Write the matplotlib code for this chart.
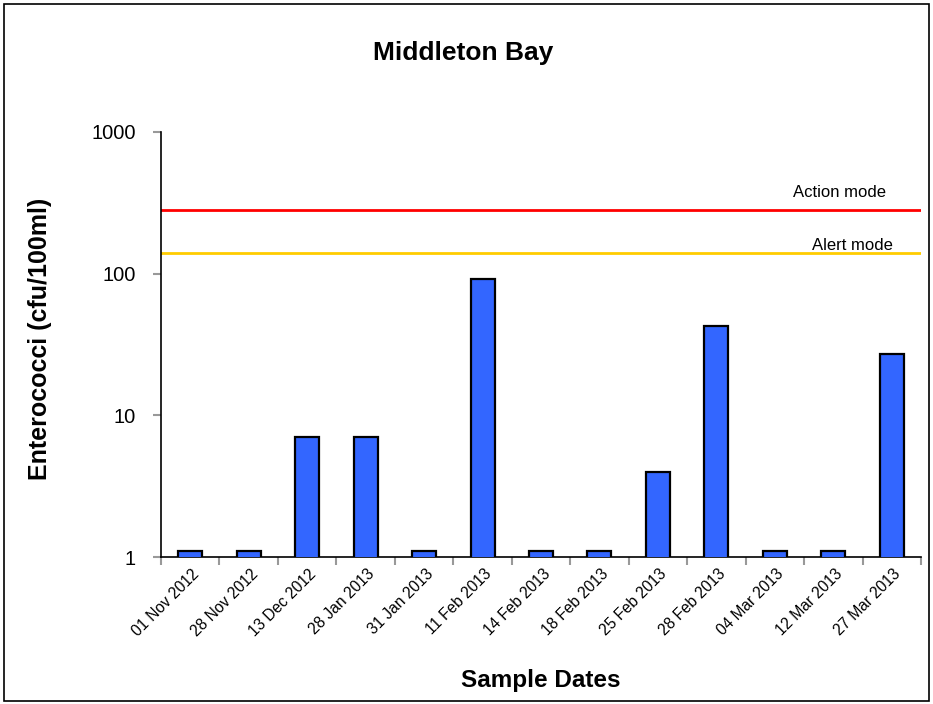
import numpy as np
import matplotlib
matplotlib.use("Agg")
import matplotlib.pyplot as plt
from matplotlib.patches import Rectangle

# Veriler
dates = ["01 Nov 2012", "28 Nov 2012", "13 Dec 2012", "28 Jan 2013", "31 Jan 2013",
         "11 Feb 2013", "14 Feb 2013", "18 Feb 2013", "25 Feb 2013", "28 Feb 2013",
         "04 Mar 2013", "12 Mar 2013", "27 Mar 2013"]
enterococci = [1.1, 1.1, 7, 7, 1.1, 91, 1.1, 1.1, 4, 43, 1.1, 1.1, 27]
action_level = 280
alert_level = 140
y_ticks = [1, 10, 100, 1000]

plt.rcParams['font.family'] = ['Liberation Sans', 'DejaVu Sans']

fig = plt.figure(figsize=(9.33, 7.04), dpi=100)
ax = fig.add_axes([161/933, 1-557.3/704, (921-161)/933, (557.3-131.7)/704])

x = np.arange(len(dates))
ax.bar(x, enterococci, width=0.41, color='#3366FF', edgecolor='black', linewidth=1.6, zorder=3)

ax.set_yscale('log')
ax.set_ylim(1, 1000)
ax.set_xlim(-0.5, len(dates) - 0.5)

# Eşik çizgileri
ax.axhline(action_level, color='#FF0000', linewidth=2, zorder=2)
ax.axhline(alert_level, color='#FFCC00', linewidth=2, zorder=2)
ax.text(11.1, action_level * 1.24, "Action mode", ha='center', va='baseline', fontsize=12)
ax.text(11.33, alert_level * 1.05, "Alert mode", ha='center', va='baseline', fontsize=12)

# Eksenler
ax.set_yticks(y_ticks)
ax.set_yticklabels([str(v) for v in y_ticks], fontsize=14.5)
ax.yaxis.set_minor_locator(matplotlib.ticker.NullLocator())
ax.tick_params(axis='y', length=6, width=1.5, color='#999999', pad=12)

ax.set_xticks(np.arange(len(dates) + 1) - 0.5)
ax.set_xticklabels([])
ax.tick_params(axis='x', length=6, width=1.5, color='#999999')
for i, d in enumerate(dates):
    ax.annotate(d, xy=(i, 0), xycoords=('data', 'axes fraction'),
                xytext=(1, -6.5), textcoords='offset points',
                ha='right', va='top', rotation=45, rotation_mode='anchor', fontsize=11.2)

for s in ['top', 'right']:
    ax.spines[s].set_visible(False)
ax.spines['left'].set_linewidth(1.2)
ax.spines['bottom'].set_linewidth(1.2)

fig.text(40/933, 1-339/704, "Enterococci (cfu/100ml)", rotation=90, ha='center', va='center',
         fontsize=18, fontweight='bold')
fig.text(541/933, 1-680/704, "Sample Dates", ha='center', va='center', fontsize=17.5, fontweight='bold')
fig.text(463/933, 1-53/704, "Middleton Bay", ha='center', va='center', fontsize=19, fontweight='bold')

# Çerçeve
fig.patches.append(Rectangle((4/933, 3/704), 925/933, 697/704, transform=fig.transFigure,
                             fill=False, edgecolor='black', linewidth=1.2))

fig.savefig("out.png", dpi=100)
